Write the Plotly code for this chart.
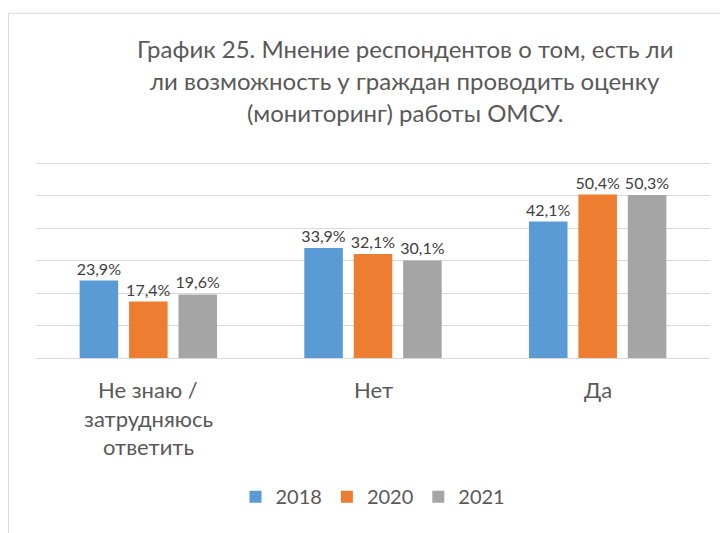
import plotly.graph_objects as go

categories = ["Не знаю /<br>затрудняюсь<br>ответить", "Нет", "Да"]
series_names = ["2018", "2020", "2021"]
values_2018 = [23.9, 33.9, 42.1]
values_2020 = [17.4, 32.1, 50.4]
values_2021 = [19.6, 30.1, 50.3]
title_lines = [
    "График 25. Мнение респондентов о том, есть ли",
    "ли возможность у граждан проводить оценку",
    "(мониторинг) работы ОМСУ.",
]
y_ticks = [0, 10, 20, 30, 40, 50, 60]
y_max = 62

colors = ["#5B9BD5", "#ED7D31", "#A5A5A5"]
FONT = "Lato"

OFF = 8  # page body margin
W, H = 728 - OFF, 533 - OFF
# plot area in window pixels
x_left, x_right = 36, 710
y_bottom = 358
y_top = y_bottom - 195 * y_max / 60
L = x_left - OFF
R = W - (x_right - OFF)
T = y_top - OFF
B = H - (y_bottom - OFF)
pw, ph = W - L - R, H - T - B

def px_x(p):
    return (p - OFF - L) / pw

def px_y(p):
    return (H - B - (p - OFF)) / ph

fig = go.Figure()
for name, vals, col in zip(series_names, [values_2018, values_2020, values_2021], colors):
    fig.add_trace(go.Bar(
        x=categories, y=vals, name=name, marker=dict(color=col, line=dict(width=0)),
        texttemplate="%{y:.1f}%", textposition="outside", constraintext="none",
        textfont=dict(family=FONT, size=16, color="#404040"),
        cliponaxis=False,
    ))

annotations = []
for i, line in enumerate(title_lines):
    annotations.append(dict(
        text=line, xref="paper", yref="paper", x=px_x(405), y=px_y(48 + 32 * i),
        xanchor="center", yanchor="middle", showarrow=False,
        font=dict(family=FONT, size=24, color="#595959"),
    ))
for cat in categories:
    for j, part in enumerate(cat.split("<br>")):
        annotations.append(dict(
            text=part, xref="x", yref="paper", x=cat, y=px_y(390 + 28.5 * j),
            xanchor="center", yanchor="middle", showarrow=False,
            font=dict(family=FONT, size=22, color="#595959"),
        ))

fig.update_layout(
    width=W, height=H,
    margin=dict(l=L, r=R, t=T, b=B, autoexpand=False),
    paper_bgcolor="white", plot_bgcolor="white",
    barmode="group", bargap=0.34, bargroupgap=0.22,
    separators=", ",
    showlegend=True,
    legend=dict(orientation="h", x=px_x(373), xanchor="center", y=px_y(497), yanchor="middle",
                font=dict(family=FONT, size=20, color="#595959"), traceorder="normal"),
    annotations=annotations,
    xaxis=dict(showticklabels=False, showline=False, showgrid=False, zeroline=False),
    yaxis=dict(range=[0, y_max], tickvals=y_ticks, showticklabels=False, showgrid=True,
               gridcolor="#D9D9D9", gridwidth=1, zeroline=True, zerolinecolor="#D9D9D9",
               zerolinewidth=1, showline=False),
    shapes=[
        dict(type="line", xref="paper", yref="paper", x0=px_x(8.5), x1=px_x(8.5), y0=px_y(540), y1=px_y(12.5),
             line=dict(color="#D9D9D9", width=1)),
        dict(type="line", xref="paper", yref="paper", x0=px_x(8.5), x1=px_x(735), y0=px_y(12.5), y1=px_y(12.5),
             line=dict(color="#D9D9D9", width=1)),
    ],
)

fig.write_html("out.html")
